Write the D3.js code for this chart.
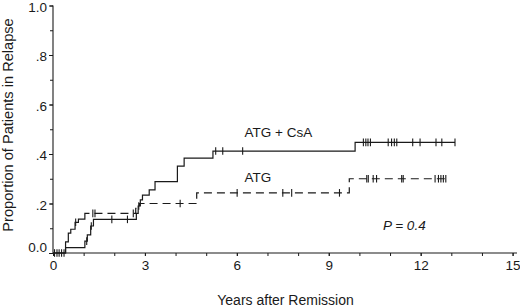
<!DOCTYPE html>
<html><head><meta charset="utf-8">
<script src="https://cdn.jsdelivr.net/npm/d3@7"></script>
<style>
html,body{margin:0;padding:0;background:#fff;}
svg{display:block;font-family:"Liberation Sans",Arial,sans-serif;}
</style></head>
<body><svg id="c" width="520" height="307"></svg>
<script>
// ---- data ----
const atgTimes  = [0, 0.41, 0.50, 0.58, 0.72, 0.83, 1.04, 2.70, 2.82, 4.69, 9.67];
const atgValues = [0, 0.045, 0.080, 0.096, 0.124, 0.137, 0.160, 0.180, 0.200, 0.243, 0.300];
const atgEnd = 12.85;
const atgCensored = [0.13, 0.28, 0.74, 1.30, 1.37, 2.62, 4.15, 6.01, 7.50, 7.79, 9.35,
  10.24, 10.29, 10.45, 10.56, 11.38, 11.43, 12.47, 12.58, 12.66, 12.74, 12.82];

const csaTimes  = [0, 0.41, 1.04, 1.12, 1.23, 1.32, 2.72, 2.78, 2.85, 2.92, 3.14, 3.33, 4.06, 4.28, 5.22, 9.86];
const csaValues = [0, 0.022, 0.048, 0.073, 0.109, 0.136, 0.160, 0.190, 0.215, 0.234, 0.255, 0.288, 0.351, 0.383, 0.412, 0.447];
const csaEnd = 13.12;
const csaCensored = [0.05, 0.20, 0.36, 1.10, 1.25, 1.92, 2.43, 2.80, 5.31, 5.54, 6.19,
  10.13, 10.21, 10.28, 10.36, 10.94, 11.05, 11.14, 11.22, 11.74, 11.98, 12.50, 12.69, 13.12];

const xTickLabels = [0, 3, 6, 9, 12, 15];
const yTickLabels = [0, 0.2, 0.4, 0.6, 0.8, 1.0];
const seriesLabels = ["ATG + CsA", "ATG"];
const pLabel = "P = 0.4";

// ---- drawing ----
const svg = d3.select("#c");
const col = "#1a1a1a";
const x = d3.scaleLinear().domain([0, 15]).range([53, 512.6]);
const y = d3.scaleLinear().domain([0, 1]).range([253, 5.5]);

// y axis
const yMinor = d3.axisLeft(y).tickValues(d3.range(0, 1.01, 0.1)).tickSize(3).tickFormat("");
svg.append("g").attr("transform", "translate(53,0)").call(yMinor)
  .call(g => g.selectAll("line").attr("stroke", col))
  .call(g => g.select(".domain").remove());
const yAxis = d3.axisLeft(y).tickValues(yTickLabels).tickSize(4).tickPadding(2)
  .tickFormat(d => d === 0 ? "0.0" : d === 1 ? "1.0" : d3.format(".1f")(d).replace(/^0/, ""));
svg.append("g").attr("transform", "translate(53,0)").call(yAxis)
  .call(g => g.select(".domain").remove())
  .call(g => g.selectAll("line").attr("stroke", col))
  .call(g => g.selectAll("text").attr("font-size", 13.5).attr("font-family", "Liberation Sans, Arial, sans-serif")
     .attr("fill", col).attr("dy", d => d === 0 ? "-0.08em" : "0.42em"));
svg.append("line").attr("x1", 53).attr("x2", 53).attr("y1", y(1)).attr("y2", y(0))
  .attr("stroke", col).attr("stroke-width", 1.1);

// x axis
const xMinor = d3.axisBottom(x).tickValues(d3.range(0, 16, 1)).tickSize(3).tickFormat("");
svg.append("g").attr("transform", "translate(0,253)").call(xMinor)
  .call(g => g.selectAll("line").attr("stroke", col))
  .call(g => g.select(".domain").remove());
const xAxis = d3.axisBottom(x).tickValues(xTickLabels).tickSize(3).tickPadding(4.5);
svg.append("g").attr("transform", "translate(0,253)").call(xAxis)
  .call(g => g.select(".domain").remove())
  .call(g => g.selectAll("line").attr("stroke", col))
  .call(g => g.selectAll("text").attr("font-size", 13.5).attr("font-family", "Liberation Sans, Arial, sans-serif").attr("fill", col));
svg.append("line").attr("x1", 53).attr("x2", 517).attr("y1", 253).attr("y2", 253)
  .attr("stroke", col).attr("stroke-width", 1.1);

// step curves
function stepPts(ts, vs, end) {
  const pts = ts.map((t, i) => [t, vs[i]]);
  pts.push([end, vs[vs.length - 1]]);
  return pts;
}
const line = d3.line().x(d => x(d[0])).y(d => y(d[1])).curve(d3.curveStepAfter);
function valAt(ts, vs, t) {
  let v = 0;
  for (let i = 0; i < ts.length; i++) if (ts[i] <= t) v = vs[i];
  return v;
}
function drawSeries(ts, vs, end, cens, dash, solidUntil) {
  const pts = stepPts(ts, vs, end);
  if (dash && solidUntil != null) {
    const k = pts.findIndex(p => p[0] >= solidUntil);
    const head = pts.slice(0, k + 1).concat([[solidUntil + 0.15, pts[k][1]]]);
    const tail = [[solidUntil + 0.15, pts[k][1]]].concat(pts.slice(k + 1));
    svg.append("path").datum(head).attr("d", line)
      .attr("fill", "none").attr("stroke", col).attr("stroke-width", 1.2);
    svg.append("path").datum(tail).attr("d", line)
      .attr("fill", "none").attr("stroke", col).attr("stroke-width", 1.2)
      .attr("stroke-dasharray", dash).attr("stroke-dashoffset", -5);
  } else {
    svg.append("path").datum(pts).attr("d", line)
      .attr("fill", "none").attr("stroke", col).attr("stroke-width", 1.2)
      .attr("stroke-dasharray", dash);
  }
  svg.append("g").selectAll("line").data(cens).join("line")
    .attr("x1", d => x(d)).attr("x2", d => x(d))
    .attr("y1", d => y(valAt(ts, vs, d)) - 3.8).attr("y2", d => y(valAt(ts, vs, d)) + 3.8)
    .attr("stroke", col).attr("stroke-width", 1.1);
}
drawSeries(csaTimes, csaValues, csaEnd, csaCensored, null);
drawSeries(atgTimes, atgValues, atgEnd, atgCensored, "8,5", 1.04);

// labels
svg.append("text").attr("x", x(6.25)).attr("y", y(0.47)).attr("font-size", 13.5).attr("fill", col).text(seriesLabels[0]);
svg.append("text").attr("x", x(6.25)).attr("y", y(0.287)).attr("font-size", 13.5).attr("fill", col).text(seriesLabels[1]);
svg.append("text").attr("x", x(10.77)).attr("y", y(0.093)).attr("font-size", 13.5).attr("font-style", "italic").attr("fill", col).text(pLabel);

// axis titles
svg.append("text").attr("x", 285.5).attr("y", 304.5).attr("text-anchor", "middle")
  .attr("font-size", 14).attr("fill", col).text("Years after Remission");
svg.append("text").attr("transform", "translate(12.5,125) rotate(-90)").attr("text-anchor", "middle")
  .attr("font-size", 14.6).attr("fill", col).text("Proportion of Patients in Relapse");
</script></body></html>
